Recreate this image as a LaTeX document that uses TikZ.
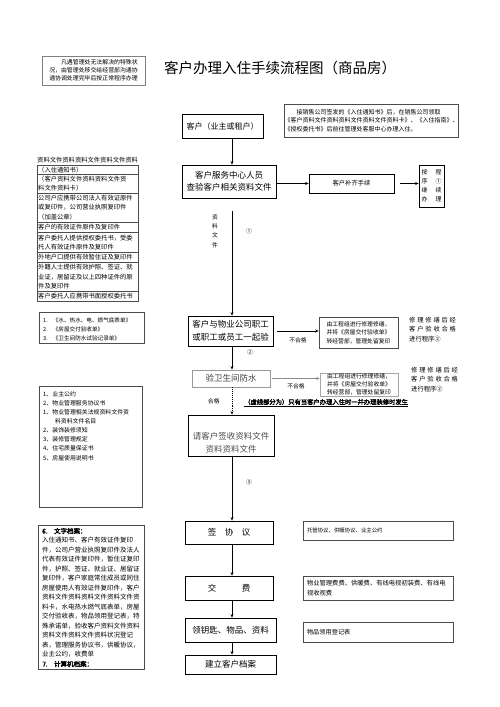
\documentclass[tikz,border=0pt]{standalone}
\usepackage{fontspec}
\setmainfont[AutoFakeBold=2.5]{Noto Sans CJK SC}
\usetikzlibrary{arrows.meta}
\newcommand{\fsz}[2]{\fontsize{#1}{#2}\selectfont}
\newcommand{\gp}{\hspace{1.8pt}}

\begin{document}
\begin{tikzpicture}[x=1pt,y=-1pt,>={Stealth[length=3.5pt,width=3pt]},
  box/.style={draw,line width=0.8pt,inner sep=0pt,align=center,font=\fsz{8.5}{12}},
  gbox/.style={box,draw=black!40,text=black!75},
  note/.style={draw=black!70,line width=0.6pt,inner sep=0pt,align=left},
  txt/.style={inner sep=0pt,align=left,font=\fsz{6.3}{9.5}},
  lbl/.style={inner sep=0pt,align=center,font=\fsz{5.8}{9.3}},
  flow/.style={->,line width=0.9pt}]
\useasboundingbox (0,0) rectangle (500,707);
% title
\node[font=\fsz{14.5}{16}] (title) at (280,68) {客户办理入住手续流程图（商品房）};
% remark top left
\node[note,draw=black!50,minimum width=103pt,minimum height=29pt] (remark) at (93.5,70.5) {};
\node[txt,font=\fsz{5.9}{8}] (remarktxt) at (93.5,70.5) {　　凡遇管理处无法解决的特殊状\\况，由管理处移交给经营部沟通协\\通协调处理完毕后按正常程序办理};
\coordinate (spine) at (232,0);
% customer and first check
\node[box,font=\fsz{8}{12},minimum width=81pt,minimum height=24pt] (cust) at (222.5,126) {客户（业主或租户）};
\node[note,font=\fsz{6}{8.5},minimum width=173pt,minimum height=33pt] (notice) at (371.5,120.5) {　　接销售公司签发的《入住通知书》后，在销售公司领取\\《客户资料文件资料资料文件资料文件资料卡》、《入住指南》、\\《授权委托书》后前往管理处客服中心办理入住。};
\node[box,minimum width=94pt,minimum height=33pt] (check) at (229,181.5) {客户服务中心人员\\查验客户相关资料文件};
\draw[flow] (cust.south -| spine) -- (check.north -| spine);
\node[box,font=\fsz{6.3}{8},minimum width=85pt,minimum height=19pt] (supply) at (351.5,183.5) {客户补齐手续};
\node[box,font=\fsz{6}{9},minimum width=25pt,minimum height=42pt] (redo) at (431.5,186) {按\hspace{8pt}程\\序\hspace{8pt}①\\继\hspace{8pt}续\\办\hspace{8pt}理};
\draw[flow] (check.east |- supply) -- (supply.west);
\draw[flow] ([xshift=6pt]supply.east) -- (redo.west |- supply);
% documents list
\node[txt,anchor=west] (dochead) at (37,160) {资料文件资料资料文件资料文件资料};
\draw[black!70,line width=0.5pt] (37,165) rectangle (138,301);
\foreach \y in {174.5,193,222,232,252,262,291}
  \draw[black!70,line width=0.5pt] (37,\y) -- (138,\y);
\node[txt,anchor=west] (d1) at (38,170) {（入住通知书）};
\node[txt,anchor=west] (d2) at (38,183.5) {（客户资料文件资料资料文件资\\料文件资料卡）};
\node[txt,anchor=west] (d3) at (38,207.5) {公司户应携带公司法人有效证原件\\或复印件，公司营业执照复印件\\（加盖公章）};
\node[txt,anchor=west] (d4) at (38,227) {客户的有效证件原件及复印件};
\node[txt,anchor=west] (d5) at (38,242.5) {客户委托人提供授权委托书，受委\\托人有效证件原件及复印件};
\node[txt,anchor=west] (d6) at (38,257) {外地户口提供有效暂住证及复印件};
\node[txt,anchor=west] (d7) at (38,277) {外籍人士提供有效护照、签证、就\\业证，居留证及以上四种证件的原\\件及复印件};
\node[txt,anchor=west] (d8) at (38,296) {客户委托人应携带书面授权委托书};
% joint inspection
\node[box,minimum width=85pt,minimum height=30pt] (joint) at (230.5,331) {客户与物业公司职工\\[1.5pt]或职工或员工一起验};
\draw[flow] ([yshift=-13pt]check.south -| spine) -- (joint.north -| spine);
\node[lbl] (docslbl) at (215,231) {资\\料\\文\\件};
\node[lbl] (n1) at (249,231) {①};
\node[lbl] (n2) at (250,352) {②};
\node[note,font=\fsz{5.8}{8.5},minimum width=79pt,minimum height=31pt] (fix1) at (358.5,332.5) {由工程组进行修理修缮，\\并将《房屋交付验收单》\\转经营部，管理处留复印};
\draw[flow] ([xshift=4pt]joint.east) -- node[lbl,below=6pt] (nq1) {不合格} (fix1.west |- joint);
\node[txt,anchor=west] (pass1) at (409,329.5) {修\gp{}理\gp{}修\gp{}缮\gp{}后\gp{}经\\客\gp{}户\gp{}验\gp{}收\gp{}合\gp{}格\\进行程序②};
\node[note,font=\fsz{5.6}{8.2},minimum width=105pt,minimum height=31pt] (meters) at (91.5,327.5) {};
\node[txt,font=\fsz{5.6}{9},anchor=west] (meterstxt) at (43,329) {1.\hspace{5pt}《水、热水、电、燃气底表单》\\2.\hspace{5pt}《房屋交付验收单》\\3.\hspace{5pt}《卫生间防水试验记录单》};
% toilet test
\node[gbox,minimum width=78pt,minimum height=17pt] (toilet) at (231,378.5) {验卫生间防水};
\draw[flow] (joint.south -| spine) -- (toilet.north -| spine);
\node[note,draw=black!35,font=\fsz{5.8}{8.2},minimum width=78pt,minimum height=23pt] (fix2) at (359,384.5) {由工程组进行修理修缮，\\并将《房屋交付验收单》\\转经营部，管理处留复印};
\draw[flow,black!45] ([xshift=2pt]toilet.east) -- node[lbl,black,below=5pt] (nq2) {不合格} (fix2.west |- toilet);
\node[txt,anchor=west] (pass2) at (411,379.5) {修\gp{}理\gp{}修\gp{}缮\gp{}后\gp{}经\\客\gp{}户\gp{}验\gp{}收\gp{}合\gp{}格\\进行程序②};
\node[txt,font=\bfseries\fsz{6.3}{8},anchor=west] (dashnote) at (244,403) {\underline{（虚线部分为）只有当客户办理入住时一并办理装修时发生}};
% sign for documents
\node[box,minimum width=86pt,minimum height=41pt] (sign) at (231,435.5) {};
\node[box,draw=none,text=black!70] (signtxt) at (231,442.5) {请客户签收资料文件\\[1pt]资料资料文件};
\draw[flow,densely dotted] (toilet.south -| spine) -- node[lbl,left=12pt] (okl) {合格} (sign.north -| spine);
\node[note,minimum width=103pt,minimum height=121pt] (contracts) at (90.5,446.5) {};
\node[txt,font=\fsz{5.9}{9.1},anchor=west] (contractstxt) at (43,426) {1、业主公约\\2、物业管理服务协议书\\1、物业管理相关法规资料文件资\\　　料资料文件名目\\2、装饰装修须知\\3、装修管理规定\\4、住宅质量保证书\\5、房屋使用说明书};
\node[lbl] (n3) at (249,482) {③};
% agreement, fees, keys, archive
\node[box,minimum width=88pt,minimum height=23pt] (agree) at (229,532.5) {签　协　议};
\draw[flow] (sign.south -| spine) -- (agree.north -| spine);
\node[note,font=\fsz{5.4}{8},text width=142pt,inner xsep=4pt,minimum height=19pt] (agreenote) at (378,530.5) {托管协议、供暖协议、业主公约};
\node[box,minimum width=88pt,minimum height=24pt] (pay) at (229,588) {交　　　费};
\draw[flow] (agree.south -| spine) -- (pay.north -| spine);
\node[note,font=\fsz{6.3}{10},text width=142pt,inner xsep=4pt,minimum height=24pt] (paynote) at (378,588) {物业管理费费、供暖费、有线电视初装费、有线电\\视收视费};
\node[box,minimum width=91pt,minimum height=24pt] (keys) at (230.5,630) {领钥匙、物品、资料};
\draw[flow] (pay.south -| spine) -- (keys.north -| spine);
\node[note,font=\fsz{6.2}{8},text width=142pt,inner xsep=4pt,minimum height=20pt] (keysnote) at (378,632) {物品领用登记表};
\node[box,minimum width=91pt,minimum height=19pt] (archive) at (230.5,664.5) {建立客户档案};
\draw[flow] (keys.south -| spine) -- (archive.north -| spine);
% records box
\node[note,minimum width=106pt,minimum height=144pt] (records) at (91,597) {};
\node[txt,font=\fsz{6.5}{9.5},anchor=west] (recordstxt) at (42,597.5) {\textbf{6.　文字档案：}\\入住通知书、客户有效证件复印\\件，公司户营业执照复印件及法人\\代表有效证件复印件，暂住证复印\\件，护照、签证、就业证、居留证\\复印件，客户家庭常住成员或同住\\房屋使用人有效证件复印件，客户\\资料文件资料资料文件资料文件资\\料卡，水电热水燃气底表单，房屋\\交付验收表，物品领用登记表，特\\殊承诺单，验收客户资料文件资料\\资料文件资料文件资料状况登记\\表，管理服务协议书，供暖协议，\\业主公约，收费单\\\textbf{7.　计算机档案：}};
\end{tikzpicture}
\end{document}
